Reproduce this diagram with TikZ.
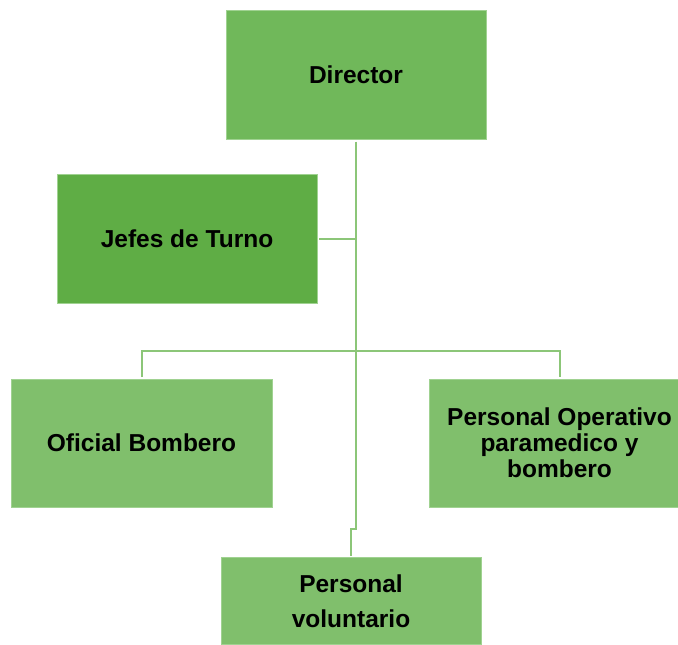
\documentclass[tikz,border=0pt]{standalone}
\usepackage{fontspec}
\setmainfont{Liberation Sans}
\definecolor{cdir}{RGB}{112,184,90}
\definecolor{cjef}{RGB}{95,173,69}
\definecolor{cbox}{RGB}{128,191,108}
\definecolor{cedge}{RGB}{160,210,145}
\definecolor{cline}{RGB}{140,198,120}
\begin{document}
\begin{tikzpicture}[x=1pt,y=-1pt,
  orgbox/.style={rectangle, draw=cedge, line width=0.8pt, inner sep=0pt, outer sep=0pt,
    align=center, font=\fontsize{24.5}{26}\selectfont\bfseries, text=black},
  conn/.style={draw=cline, line width=2pt}]
\useasboundingbox (0,0) rectangle (678,645);
\node[orgbox, fill=cdir, minimum width=260pt, minimum height=129pt] (dir) at (356,74.5) {Director};
\node[orgbox, fill=cjef, minimum width=260pt, minimum height=129pt] (jef) at (187,238.5) {Jefes de Turno};
\node[orgbox, fill=cbox, minimum width=261pt, minimum height=128pt] (ofi) at (141.5,443) {Oficial Bombero};
\node[orgbox, fill=cbox, minimum width=261pt, minimum height=128pt] (ope) at (559.5,443) {Personal Operativo\\paramedico y\\bombero};
\node[orgbox, fill=cbox, minimum width=260pt, minimum height=87pt, font=\fontsize{24.5}{35}\selectfont\bfseries] (vol) at (351,601) {Personal\\voluntario};
\coordinate (jog) at (356,529);
\coordinate (bar) at (356,351);
\draw[conn, shorten <=2.5pt, shorten >=2pt] (dir.south) -- (jog) -| (vol.north);
\draw[conn, shorten <=2pt] (jef.east) -- (jef.east -| dir.south);
\draw[conn, shorten <=2pt, shorten >=2pt] (ofi.north) |- (bar) -| (ope.north);
\end{tikzpicture}
\end{document}
